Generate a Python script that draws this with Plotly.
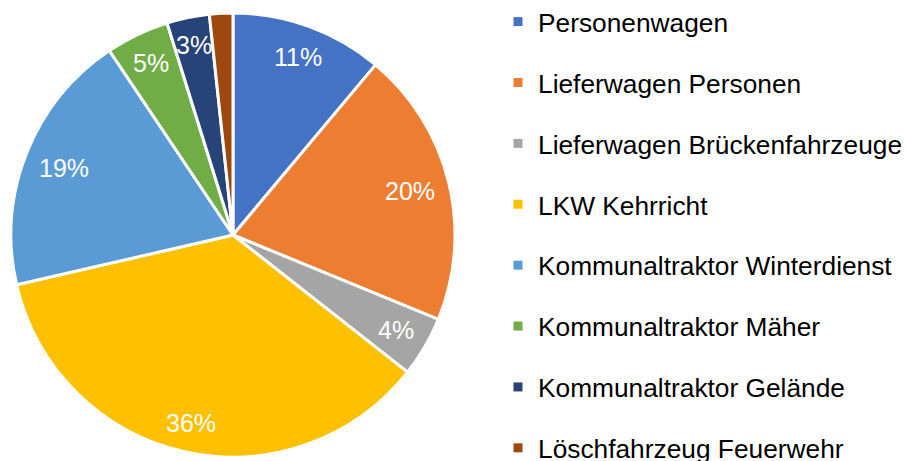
import math
import plotly.graph_objects as go

categories = ["Personenwagen", "Lieferwagen Personen", "Lieferwagen Brückenfahrzeuge",
              "LKW Kehrricht", "Kommunaltraktor Winterdienst", "Kommunaltraktor Mäher",
              "Kommunaltraktor Gelände", "Löschfahrzeug Feuerwehr"]
values = [11.1, 20.1, 4.4, 35.8, 19.2, 4.6, 3.1, 1.7]
colors = ["#4472C4", "#ED7D31", "#A5A5A5", "#FFC000", "#5B9BD5", "#70AD47", "#264478", "#9E480E"]
show_label = [True, True, True, True, True, True, True, False]

FONT = "Arial, Liberation Sans, sans-serif"
W, H = 907, 461
LABEL_SIZE = 25

# pie placement (pixels)
PIE_LEFT, PIE_RIGHT, PIE_TOP, PIE_BOTTOM = 11, 455, 13, 457
cx = (PIE_LEFT + PIE_RIGHT) / 2
cy = (PIE_TOP + PIE_BOTTOM) / 2
R = (PIE_RIGHT - PIE_LEFT) / 2

fig = go.Figure()
fig.add_trace(go.Pie(
    labels=categories, values=values, sort=False, direction="clockwise", rotation=0,
    marker=dict(colors=colors, line=dict(color="white", width=3)),
    textinfo="none",
    showlegend=False, hoverinfo="label+percent",
    domain=dict(x=[PIE_LEFT / W, PIE_RIGHT / W], y=[1 - PIE_BOTTOM / H, 1 - PIE_TOP / H]),
))

# percentage labels placed inside each slice, near the outer edge (Excel style)
total = sum(values)
cum = 0.0
for v, s in zip(values, show_label):
    frac = v / total
    mid = (cum + frac / 2) * 2 * math.pi
    cum += frac
    if not s:
        continue
    txt = f"{round(frac * 100)}%"
    char_w = sum(0.889 if ch == "%" else 0.556 for ch in txt) * LABEL_SIZE
    hw, hh = char_w / 2, LABEL_SIZE * 0.5
    extent = abs(math.sin(mid)) * hw + abs(math.cos(mid)) * hh
    r = R - extent - 12
    px = cx + r * math.sin(mid)
    py = cy - r * math.cos(mid)
    fig.add_annotation(x=px / W, y=1 - py / H, xref="paper", yref="paper",
                       text=txt, showarrow=False, xanchor="center", yanchor="middle",
                       font=dict(color="white", size=LABEL_SIZE, family=FONT))

for cat, col in zip(categories, colors):
    fig.add_trace(go.Scatter(
        x=[None], y=[None], mode="markers", name=cat, legendgroup=cat,
        marker=dict(symbol="square", size=9, color=col),
    ))

fig.update_layout(
    width=W, height=H,
    margin=dict(l=0, r=0, t=0, b=0, autoexpand=False),
    paper_bgcolor="white", plot_bgcolor="white",
    xaxis=dict(visible=False), yaxis=dict(visible=False),
    legend=dict(x=498 / W, y=1 + 2 / H, xanchor="left", yanchor="top",
                font=dict(size=26.3, family=FONT, color="#000000"),
                traceorder="grouped", tracegroupgap=23.7, itemwidth=30,
                maxheight=700, bgcolor="rgba(0,0,0,0)"),
    font=dict(family=FONT),
)

fig.write_html("out.html", config={"displayModeBar": False},
               post_script="document.body.style.margin='0';")
